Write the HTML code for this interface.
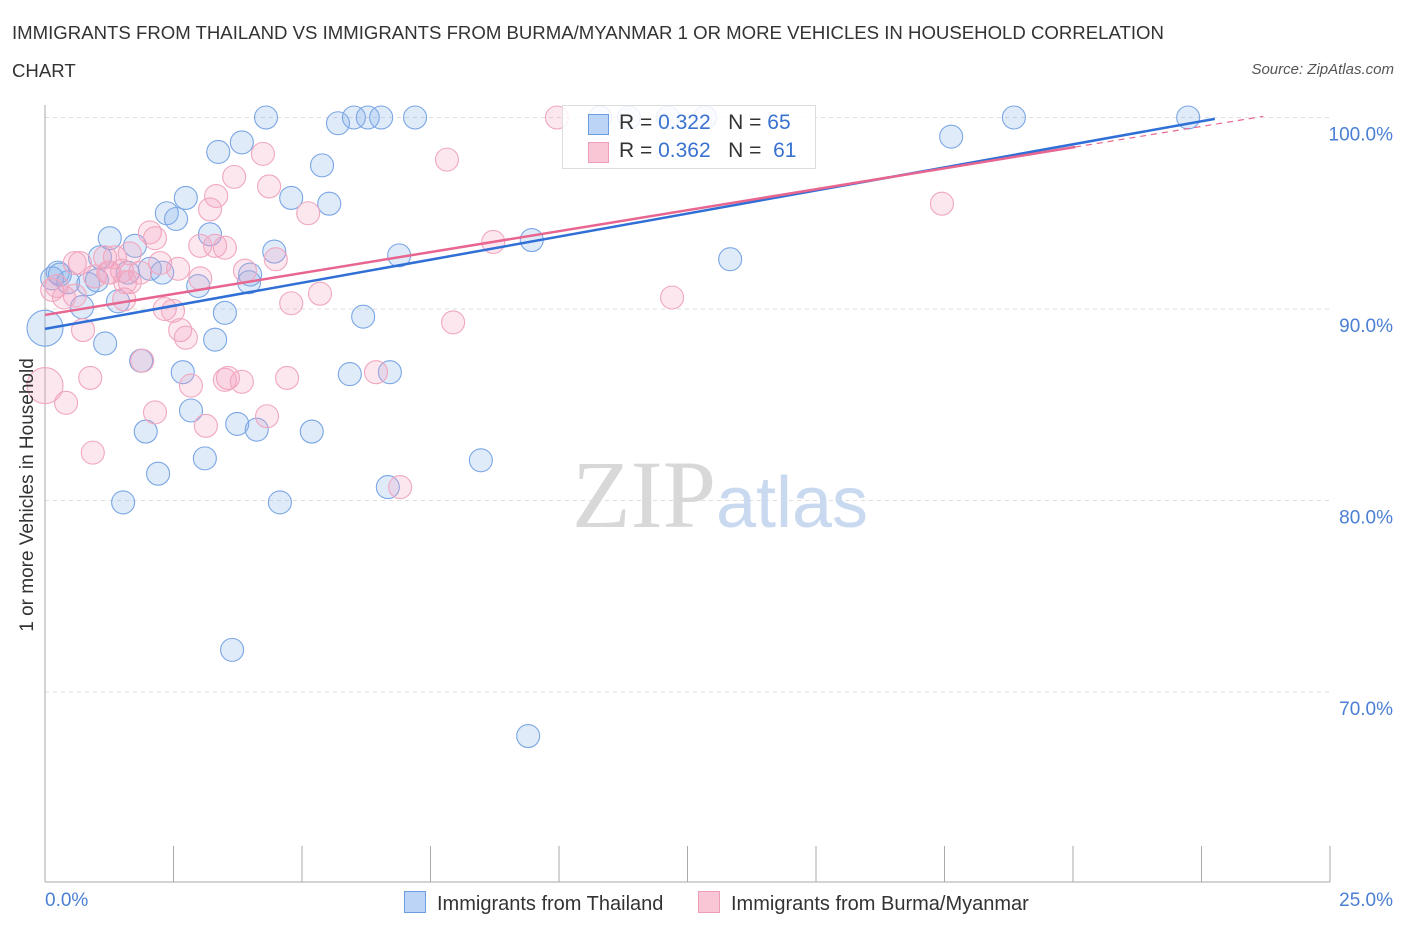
<!DOCTYPE html>
<html><head><meta charset="utf-8"><style>
body{margin:0;background:#fff;font-family:"Liberation Sans",sans-serif;}
#wrap{position:relative;width:1406px;height:930px;overflow:hidden}
.t{position:absolute;white-space:nowrap}
</style></head><body>
<div id="wrap">
<div class="t" style="left:12px;top:14px;font-size:18.6px;color:#333;line-height:38px;width:1180px;white-space:normal">IMMIGRANTS FROM THAILAND VS IMMIGRANTS FROM BURMA/MYANMAR 1 OR MORE VEHICLES IN HOUSEHOLD CORRELATION CHART</div>
<div class="t" style="right:12px;top:61px;font-size:15px;color:#555;font-style:italic">Source: ZipAtlas.com</div>
<svg id="svg" width="1406" height="930" style="position:absolute;left:0;top:0"></svg>
</div>
<script>
const blueX=[0,0.25,0.14,0.45,0.84,1.01,0.72,1.07,1.26,1.75,1.42,1.61,2.04,2.28,2.37,2.55,2.74,3.21,2.98,3.5,3.31,3.83,4.3,3.37,4.79,5.39,5.53,4.46,3.97,5.7,6.01,6.28,6.54,7.2,6.89,9.47,6.19,1.17,1.87,2.68,5.93,6.71,2.84,3.74,4.12,1.96,5.19,3.11,2.2,1.52,4.57,6.67,8.48,3.64,9.4,11.36,12.12,12.84,17.63,18.85,22.24,13.33,0.29,3.99,10.8];
const blueY=[89,91.9,91.6,91.4,91.3,91.5,90.1,92.7,93.7,93.3,90.4,91.9,92.1,91.9,95,94.7,95.8,93.9,91.2,89.8,88.4,98.7,100,98.2,95.8,97.5,95.5,93,91.4,99.7,100,100,100,100,92.8,93.6,89.6,88.2,87.3,86.7,86.6,86.7,84.7,84,83.7,83.6,83.6,82.2,81.4,79.9,79.9,80.7,82.1,72.2,67.7,100,100,100,99,100,100,92.6,91.8,91.8,100];
const pinkX=[0,0.14,0.23,0.58,0.68,0.97,1.17,1.26,1.36,1.54,1.65,1.85,2.04,2.14,2.24,2.33,2.49,2.59,2.63,2.74,3.02,3.21,3.31,3.5,3.33,3.68,3.89,4.24,4.36,4.49,4.79,5.12,5.35,0.74,0.88,0.41,0.93,1.89,2.14,2.84,3.13,3.56,3.83,4.32,4.71,6.44,6.91,7.94,7.82,8.72,9.96,12.2,17.45,1.65,1.5,3.02,0.58,1.56,3.5,0.37,1.23];
const pinkY=[86,91,91.2,90.7,92.4,91.7,92.7,91.9,92.7,90.5,91.4,91.9,94,93.7,92.4,90,89.9,92.1,88.9,88.5,91.6,95.2,93.3,93.2,95.9,96.9,92,98.1,96.4,92.6,90.3,95,90.8,88.9,86.4,85.1,82.5,87.3,84.6,86,83.9,86.4,86.2,84.4,86.4,86.7,80.7,89.3,97.8,93.5,100,90.6,95.5,92.9,92,93.3,92.4,91.4,86.3,90.6,91.9];
const ticksY=[100,90,80,70];
const xTickVals=[0,2.5,5,7.5,10,12.5,15,17.5,20,22.5,25];
const blueTrend=[88.96,0.482]; const pinkTrend=[89.69,0.4375];
const NS='http://www.w3.org/2000/svg', svg=document.getElementById('svg');
const X=v=>45+v*51.4, Y=v=>117.5+(100-v)*19.15;
function mk(t,a,p){const e=document.createElementNS(NS,t);for(const k in a)e.setAttribute(k,a[k]);(p||svg).appendChild(e);return e;}
ticksY.forEach(v=>{const l=mk('line',{x1:45,x2:1330,y1:Y(v),y2:Y(v),stroke:'#ddd','stroke-dasharray':'4,4'});


const t=mk('text',{x:1393,y:Y(v)+23,'text-anchor':'end','font-size':19,fill:'#4a7fd4','font-family':'Liberation Sans'});t.textContent=v.toFixed(1)+'%';

});
const ax=mk('line',{x1:45,x2:45,y1:105,y2:882,stroke:'#aaa'});
const bx=mk('line',{x1:45,x2:1330,y1:882,y2:882,stroke:'#aaa'});
xTickVals.forEach(v=>{const l=mk('line',{x1:X(v),x2:X(v),y1:846,y2:882,stroke:'#aaa'});

});
const wm=mk('text',{x:720,y:527,'text-anchor':'middle','font-size':96,'font-family':'Liberation Serif',fill:'#d8d8d8'});wm.innerHTML='ZIP<tspan fill="#c8d9f0" font-family="Liberation Sans" font-size="72">atlas</tspan>';

function pts(xs,ys,fill,stroke,name){xs.forEach((x,i)=>{const r=(x===0&&i===0)?18:11.5;
const c=mk('circle',{cx:X(x),cy:Y(ys[i]),r:r,fill:fill,stroke:stroke,'stroke-width':1.1});

});}
pts(blueX,blueY,'rgba(130,175,235,0.25)','#7aa6e4','point-thailand');
pts(pinkX,pinkY,'rgba(245,160,190,0.25)','#f0a7bf','point-burma');
let l=mk('line',{x1:X(0),y1:Y(blueTrend[0]),x2:X(22.76),y2:Y(blueTrend[0]+blueTrend[1]*22.76),stroke:'#2f6fd6','stroke-width':2.5});

l=mk('line',{x1:X(0),y1:Y(pinkTrend[0]),x2:X(20.04),y2:Y(pinkTrend[0]+pinkTrend[1]*20.04),stroke:'#e8658f','stroke-width':2.5});

l=mk('line',{x1:X(20.04),y1:Y(pinkTrend[0]+pinkTrend[1]*20.04),x2:X(23.7),y2:Y(pinkTrend[0]+pinkTrend[1]*23.7),stroke:'#e8658f','stroke-width':1.2,'stroke-dasharray':'6,5'});

</script>
<div class="t" style="left:28px;top:495px;transform:translate(-50%,-50%) rotate(-90deg);font-size:19px;color:#333">1 or more Vehicles in Household</div>
<div class="t" style="left:45px;top:890px;font-size:19px;color:#4a7fd4">0.0%</div>
<div class="t" style="right:13px;top:890px;font-size:19px;color:#4a7fd4">25.0%</div>
<div style="position:absolute;left:562px;top:105px;width:252px;height:62px;border:1px solid #ddd;background:rgba(255,255,255,0.85);font-size:21px;color:#333">
<div style="position:absolute;left:25px;top:8px;width:19px;height:19px;background:#bcd4f5;border:1px solid #6c9de0"></div>
<div class="t" style="left:56px;top:5px">R = <span style="color:#3a72d0">0.322</span>&nbsp;&nbsp;&nbsp;N = <span style="color:#3a72d0">65</span></div>
<div style="position:absolute;left:25px;top:36px;width:19px;height:19px;background:#f9c6d6;border:1px solid #ef9db8"></div>
<div class="t" style="left:56px;top:33px">R = <span style="color:#3a72d0">0.362</span>&nbsp;&nbsp;&nbsp;N = &nbsp;<span style="color:#3a72d0">61</span></div>
</div>
<div style="position:absolute;left:404px;top:890px;font-size:20px;color:#333">
<div style="position:absolute;left:0;top:1px;white-space:nowrap"><span style="display:inline-block;width:20px;height:20px;background:#bcd4f5;border:1px solid #6c9de0;vertical-align:-3px;margin-right:11px"></span>Immigrants from Thailand</div>
<div style="position:absolute;left:294px;top:1px;white-space:nowrap"><span style="display:inline-block;width:20px;height:20px;background:#f9c6d6;border:1px solid #ef9db8;vertical-align:-3px;margin-right:11px"></span>Immigrants from Burma/Myanmar</div>
</div>
</body></html>
